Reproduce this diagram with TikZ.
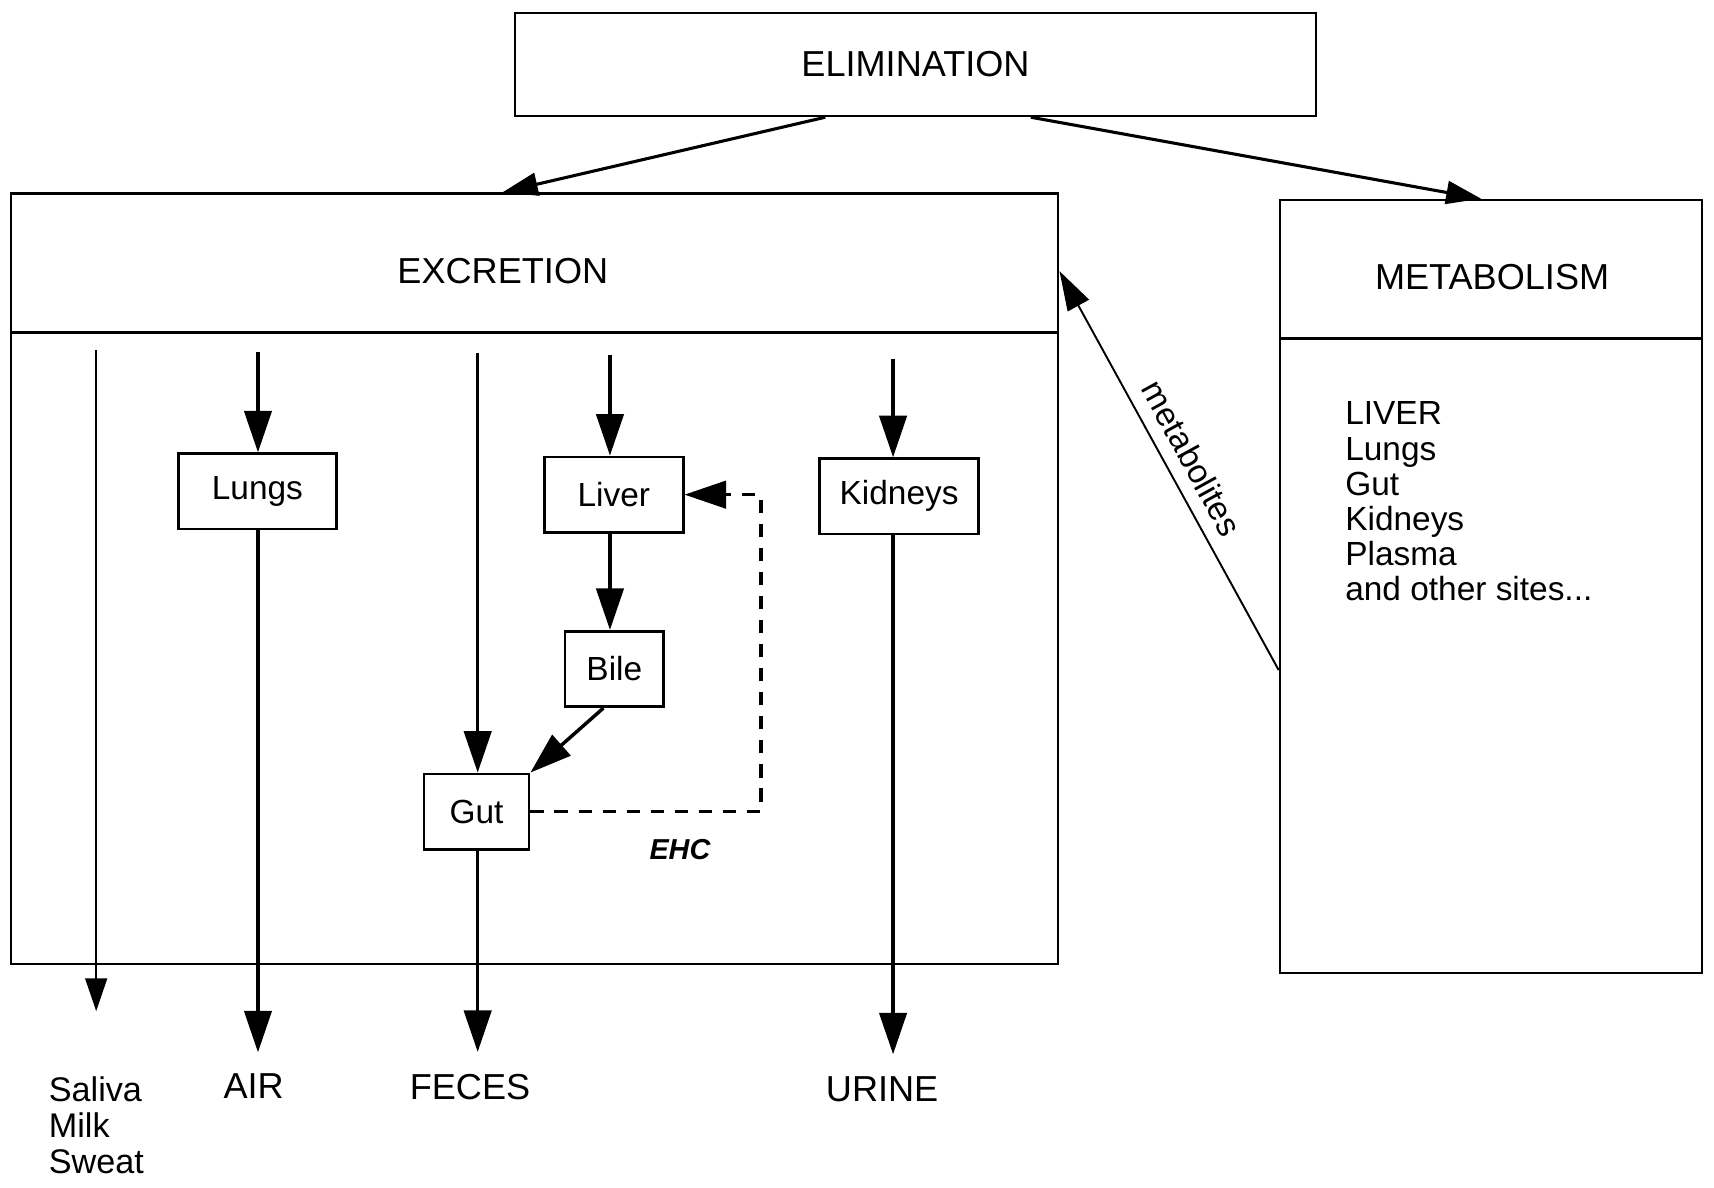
\documentclass[tikz,border=0pt]{standalone}
\usepackage{fontspec}
\setmainfont{Liberation Sans}
\usetikzlibrary{calc,arrows.meta}

\begin{document}
\begin{tikzpicture}[x=0.1mm,y=-0.1mm,
  font=\fontsize{9.4}{9.3}\selectfont,
  small/.style={font=\fontsize{8.7}{9.15}\selectfont},
  box/.style={draw, line width=0.7pt, inner sep=0pt},
  organ/.style={box, small, minimum height=6.9mm},
  outlbl/.style={inner sep=0pt, outer sep=2mm},
  arr/.style={line width=0.9pt, -{Triangle[length=3.8mm,width=2.5mm]}},
  thinarr/.style={line width=0.5pt, -{Triangle[length=3mm,width=2mm]}},
  toparr/.style={line width=0.8pt, -{Triangle[length=3.2mm,width=2.1mm]}},
  dasharr/.style={arr, dash pattern=on 1.2mm off 1mm}]

\useasboundingbox (0,0) rectangle (1568,1086);

% --- Top box ---
\node[box, minimum width=73.3mm, minimum height=9.4mm] (elim) at (837.5,59) {ELIMINATION};

% --- Excretion block and its header line ---
\node[box, minimum width=95.8mm, minimum height=70.5mm] (excr) at (489,529.5) {};
\node (excrtxt) at (460,248) {EXCRETION};
\coordinate (exsplit) at (489,304);
\draw[line width=0.8pt] (excr.west |- exsplit) -- (excr.east |- exsplit);

% --- Metabolism block ---
\node[box, minimum width=38.6mm, minimum height=70.7mm] (metab) at (1364,536.5) {};
\node (mettxt) at (1365,253) {METABOLISM};
\coordinate (metsplit) at (1364,310);
\draw[line width=0.8pt] (metab.west |- metsplit) -- (metab.east |- metsplit);
\node[small, anchor=north west, inner sep=0pt, align=left] (sites) at (1230,367)
  {LIVER\\Lungs\\Gut\\Kidneys\\Plasma\\and other sites...};

% --- Organs inside excretion ---
\node[organ, minimum width=14.5mm] (lungs)   at (235.5,449.5) {Lungs};
\node[organ, minimum width=12.7mm] (liver)   at (561.5,452.5) {Liver};
\node[organ, minimum width=9mm]    (bile)    at (562,612)     {Bile};
\node[organ, minimum width=9.6mm]  (gut)     at (436,742.5)   {Gut};
\node[organ, minimum width=14.5mm] (kidneys) at (822.5,454)   {Kidneys};

% column starts (just under the header line)
\coordinate (salTop) at (88,320);
\coordinate (salEnd) at (88,925);
\coordinate (lunTop) at (236,322);
\coordinate (fecTop) at (437,323);
\coordinate (livTop) at (558,325);
\coordinate (kidTop) at (817,328);

% --- Outputs below the block ---
\node[small, anchor=north west, inner sep=0pt, align=left, font=\fontsize{8.9}{9.4}\selectfont]
  (saliva) at (44,984) {Saliva\\Milk\\Sweat};
\node[outlbl] (air)   at (232,994) {AIR};
\node[outlbl] (feces) at (430,994) {FECES};
\node[outlbl] (urine) at (807,996) {URINE};

% --- Columns ---
\draw[thinarr] (salTop) -- (salEnd);
\draw[arr] (lunTop) -- (lunTop |- lungs.north);
\draw[arr] (lungs.south -| lunTop) -- (lunTop |- air.north);
\draw[arr] (fecTop) -- (fecTop |- gut.north);
\draw[arr] (gut.south -| fecTop) -- (fecTop |- feces.north);
\draw[arr] (livTop) -- (livTop |- liver.north);
\draw[arr] (liver.south -| livTop) -- (livTop |- bile.north);
\draw[arr] ([xshift=-1mm]bile.south) -- (gut.north east);
\draw[arr] (kidTop) -- (kidTop |- kidneys.north);
\draw[arr] (kidneys.south -| kidTop) -- (kidTop |- urine.north);

% enterohepatic loop
\coordinate (ehcx) at (696,600);
\draw[dasharr] (gut.east) -| (ehcx |- liver.east) -- (liver.east);
\node[font=\fontsize{7.5}{9}\selectfont\bfseries\itshape] (ehc) at (622,777) {EHC};

% --- Elimination split ---
\draw[toparr] ([xshift=-8.25mm]elim.south) -- (excrtxt |- excr.north);
\draw[toparr] ([xshift=10.55mm]elim.south) -- ([xshift=-0.9mm]metab.north);

% metabolites back to excretion
\draw[line width=0.5pt, -{Triangle[length=3.6mm,width=2.2mm]}]
  ([yshift=-7.65mm]metab.west) -- (excrtxt -| excr.east)
  node[small, midway, sloped, above] {metabolites};

\end{tikzpicture}
\end{document}
